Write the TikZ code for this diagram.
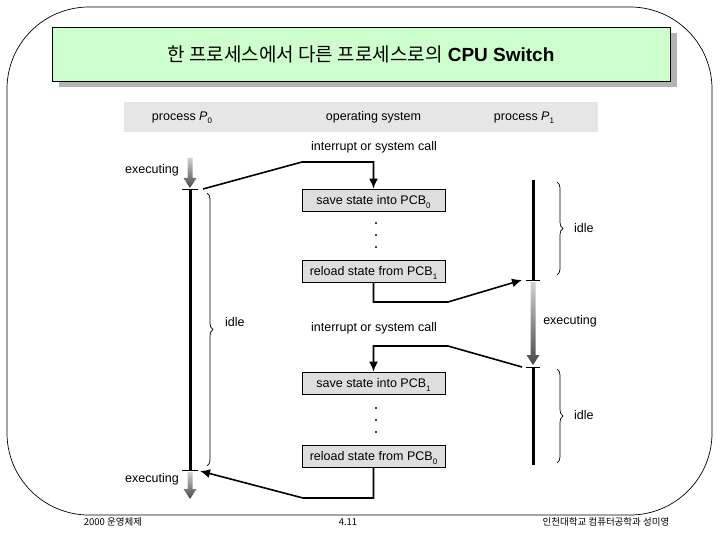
\documentclass[tikz,border=0pt]{standalone}
\usepackage{fontspec}
\setmainfont{Liberation Sans}
\newfontfamily\kr{Noto Sans CJK KR}
\usetikzlibrary{arrows.meta,decorations.pathreplacing}
\definecolor{titlegreen}{HTML}{CCFFCC}
\definecolor{shadowgray}{HTML}{B4B4B4}
\definecolor{bandgray}{HTML}{E6E6E6}
\definecolor{boxgray}{HTML}{DEDEDE}
\newcommand\lowsub[1]{\smash{\raisebox{-0.55ex}{\fontsize{8}{9}\selectfont #1}}}

\begin{document}
\begin{tikzpicture}[x=1pt,y=-1pt,
  lbl/.style={font=\fontsize{12.5}{14}\selectfont,inner sep=1pt},
  osbox/.style={draw,line width=0.8pt,fill=boxgray,minimum width=143pt,minimum height=22pt,inner sep=0pt,font=\fontsize{12.5}{14}\selectfont},
  flow/.style={line width=1.6pt,-{Latex[length=10pt,width=9pt]}},
  run/.style={line width=3pt},
  tick/.style={line width=0.8pt},
  idlebrace/.style={decorate,decoration={brace,amplitude=6pt},line width=0.7pt},
  foot/.style={font=\kr\fontsize{9.5}{11}\selectfont,inner sep=0pt}]
\useasboundingbox (0,0) rectangle (720,540);

% frame and title
\draw[line width=0.7pt,rounded corners=82pt] (7,7) rectangle (712,515);
\fill[shadowgray] (59,33) rectangle (677,87);
\node[draw,line width=0.9pt,fill=titlegreen,minimum width=618pt,minimum height=54pt,inner sep=0pt,font=\fontsize{19}{22}\selectfont] (title) at (361,54) {{\kr 한 프로세스에서 다른 프로세스로의} \textbf{CPU Switch}};

% header band
\node[fill=bandgray,minimum width=474pt,minimum height=30pt,inner sep=0pt] (band) at (361,117) {};
\node[lbl] (p0lab) at (182,117) {process \textit{P}\lowsub{0}};
\node[lbl] (oslab) at (373.5,117) {operating system};
\node[lbl] (p1lab) at (524,117) {process \textit{P}\lowsub{1}};

% os boxes
\node[osbox] (save0) at (373.5,200) {save state into PCB\lowsub{0}};
\node[osbox] (reload1) at (373.5,271.5) {reload state from PCB\lowsub{1}};
\node[osbox] (save1) at (373.5,383) {save state into PCB\lowsub{1}};
\node[osbox] (reload0) at (373.5,456.5) {reload state from PCB\lowsub{0}};
\foreach \y in {223,235,247,408,420,432}
  \fill (376,\y) circle (1.2pt);

\node[lbl] (call0) at (374,147) {interrupt or system call};
\node[lbl] (call1) at (374,328) {interrupt or system call};

% process P0
\coordinate (t0a) at (190,189);
\coordinate (t0b) at (190,470);
\shade[top color=black!18,bottom color=black!72] (187.5,158) -- (192.5,158) -- (192.5,178) -- (196.5,178) -- (190,188) -- (183.5,178) -- (187.5,178) -- cycle;
\draw[run] (t0a) -- (t0b);
\draw[tick] (182,189) -- (198,189);
\draw[tick] (182,470) -- (198,470);
\shade[top color=black!18,bottom color=black!72] (187.5,472) -- (192.5,472) -- (192.5,489) -- (196.5,489) -- (190,499) -- (183.5,489) -- (187.5,489) -- cycle;
\node[lbl] (ex0) at (152,170) {executing};
\node[lbl] (ex2) at (152,479) {executing};
\draw[idlebrace] (207,193) -- (207,466);
\node[lbl,anchor=west] (idle0) at (224,322) {idle};

% process P1
\coordinate (t1top) at (533,180);
\coordinate (t1a) at (533,280);
\coordinate (t1b) at (533,367);
\coordinate (t1end) at (533,465);
\draw[run] (t1top) -- (t1a);
\shade[top color=black!18,bottom color=black!72] (530.5,282) -- (535.5,282) -- (535.5,355) -- (539.5,355) -- (533,365) -- (526.5,355) -- (530.5,355) -- cycle;
\draw[run] (t1b) -- (t1end);
\draw[tick] (526,280) -- (540,280);
\draw[tick] (526,367) -- (540,367);
\node[lbl] (ex1) at (570,321) {executing};
\draw[idlebrace] (557,182) -- (557,275);
\draw[idlebrace] (557,369) -- (557,463);
\node[lbl,anchor=west] (idle1) at (573,228) {idle};
\node[lbl,anchor=west] (idle2) at (573,415) {idle};

% switches
\coordinate (s0) at (203,189);
\coordinate (e1) at (522,280);
\coordinate (s1) at (522,367);
\coordinate (e0) at (200,471);
\draw[flow] (s0) -- (302,162) -| (save0.north);
\draw[flow] (reload1.south) |- (448,302) -- (e1);
\draw[flow] (s1) -- (448,346) -| (save1.north);
\draw[flow] (reload0.south) |- (303,498) -- (e0);

% footer
\node[foot] (f0) at (113,522) {2000 운영체제};
\node[foot] (f1) at (348,522) {4.11};
\node[foot] (f2) at (606,522) {인천대학교 컴퓨터공학과 성미영};
\end{tikzpicture}
\end{document}
